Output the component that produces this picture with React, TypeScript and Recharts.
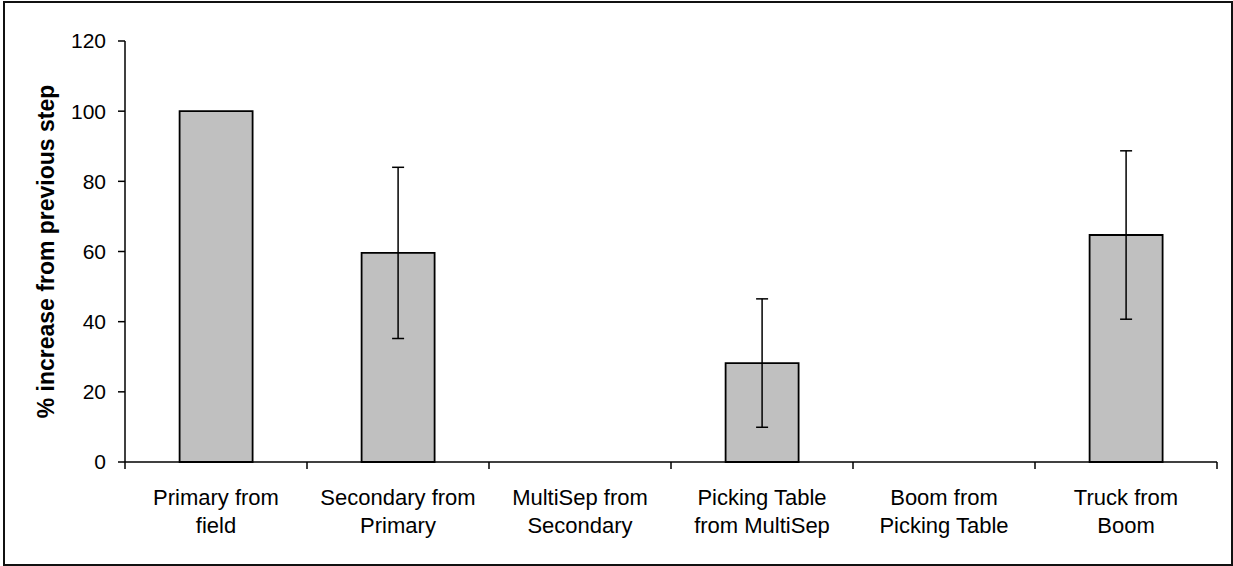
import React from 'react';
import { BarChart, Bar, XAxis, YAxis, ErrorBar } from 'recharts';

const categories = [
  'Primary from field',
  'Secondary from Primary',
  'MultiSep from Secondary',
  'Picking Table from MultiSep',
  'Boom from Picking Table',
  'Truck from Boom',
];
const labelLines: string[][] = [
  ['Primary from', 'field'],
  ['Secondary from', 'Primary'],
  ['MultiSep from', 'Secondary'],
  ['Picking Table', 'from MultiSep'],
  ['Boom from', 'Picking Table'],
  ['Truck from', 'Boom'],
];
const values = [100, 59.6, 0, 28.2, 0, 64.7];
const errors: (number | null)[] = [null, 24.4, null, 18.3, null, 24.0];
const yTicks = [0, 20, 40, 60, 80, 100, 120];

const data = categories.map((name, i) => ({ name, value: values[i], err: errors[i] }));

const FONT = '"Liberation Sans", Arial, sans-serif';

const CategoryTick = (props: any) => {
  const { x, y, payload, index, visibleTicksCount } = props;
  const idx = payload && typeof payload.index === 'number' ? payload.index : index;
  const lines = labelLines[idx] || [String(payload.value)];
  const half = payload && typeof payload.offset === 'number' && payload.offset > 0 ? payload.offset : 91;
  const count = visibleTicksCount || categories.length;
  const isLast = idx === count - 1;
  return (
    <g>
      <line x1={x - half} y1={y} x2={x - half} y2={y + 7} stroke="#000" strokeWidth={1.5} />
      {isLast && <line x1={x + half} y1={y} x2={x + half} y2={y + 7} stroke="#000" strokeWidth={1.5} />}
      <text x={x} y={y} textAnchor="middle" fontSize={22} fill="#000" fontFamily={FONT}>
        {lines.map((l, i) => (
          <tspan key={i} x={x} dy={i === 0 ? 43 : 27.5}>
            {l}
          </tspan>
        ))}
      </text>
    </g>
  );
};

const YLabel = (props: any) => {
  const vb = props.viewBox || { x: 0, y: 41, width: 125, height: 421 };
  const cx = 46;
  const cy = vb.y + vb.height / 2;
  return (
    <text
      x={cx}
      y={cy}
      transform={`rotate(-90, ${cx}, ${cy})`}
      textAnchor="middle"
      dominantBaseline="central"
      fontSize={23}
      fontWeight="bold"
      fill="#000"
      fontFamily={FONT}
    >
      % increase from previous step
    </text>
  );
};

export default function App() {
  return (
    <div
      style={{
        position: 'absolute',
        left: 0,
        top: 0,
        width: 1233,
        height: 566,
        background: '#fff',
      }}
    >
      <div
        style={{
          position: 'absolute',
          left: 3,
          top: 1,
          width: 1230,
          height: 565,
          boxSizing: 'border-box',
          border: '2px solid #111',
        }}
      />
      <div style={{ position: 'absolute', left: 0, top: 0 }}>
        <BarChart
          width={1233}
          height={566}
          data={data}
          margin={{ top: 41, right: 16, bottom: 0, left: 0 }}
          barCategoryGap="30%"
        >
          <XAxis
            dataKey="name"
            height={104}
            tickLine={false}
            axisLine={{ stroke: '#000', strokeWidth: 1.5 }}
            tickSize={0}
            tickMargin={0}
            interval={0}
            tick={<CategoryTick />}
          />
          <YAxis
            width={125}
            domain={[0, 120]}
            ticks={yTicks}
            interval={0}
            tickSize={7}
            tickMargin={12}
            axisLine={{ stroke: '#000', strokeWidth: 1.5 }}
            tickLine={{ stroke: '#000', strokeWidth: 1.5 }}
            tick={{ fill: '#000', fontSize: 21, fontFamily: FONT }}
            label={<YLabel />}
          />
          <Bar
            dataKey="value"
            fill="#C0C0C0"
            stroke="#000"
            strokeWidth={1.8}
            isAnimationActive={false}
          >
            <ErrorBar dataKey="err" width={6} stroke="#000" strokeWidth={1.5} direction="y" />
          </Bar>
        </BarChart>
      </div>
    </div>
  );
}
